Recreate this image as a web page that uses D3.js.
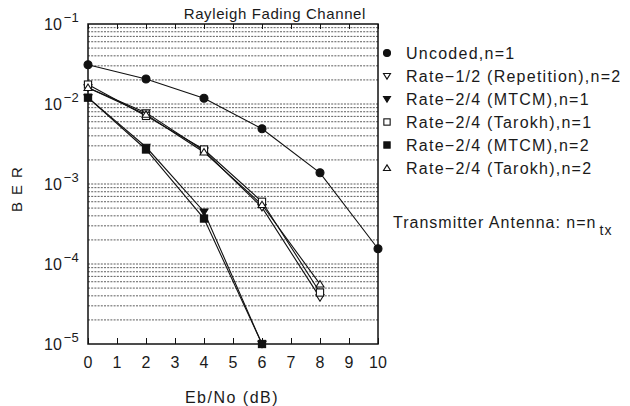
<!DOCTYPE html>
<html>
<head>
<meta charset="utf-8">
<script src="https://cdn.jsdelivr.net/npm/d3@7"></script>
<style>
  body { margin: 0; background: #fff; }
  svg { font-family: "Liberation Sans", Arial, sans-serif; }
  text { fill: #1a1a1a; }
</style>
</head>
<body>
<svg id="chart" width="630" height="406"></svg>
<script>
const ebno = [0, 2, 4, 6, 8, 10];
const uncoded = [0.031, 0.0205, 0.0118, 0.0049, 0.00138, 0.000155];
const rep2 = [0.016, 0.0078, 0.0026, 0.00051, 0.000038];
const mtcm1 = [0.012, 0.0029, 0.00045, 0.00001];
const tarokh1 = [0.0175, 0.0071, 0.0027, 0.0006, 0.000044];
const mtcm2 = [0.012, 0.0027, 0.00037, 0.00001];
const tarokh2 = [0.016, 0.0074, 0.0025, 0.00055, 0.000056];

const xTicks = d3.range(0, 11);
const yDecades = [-1, -2, -3, -4, -5];

const series = [
  { name: "Uncoded,n=1", values: uncoded, shape: "circle", fill: true },
  { name: "Rate\u22121/2 (Repetition),n=2", values: rep2, shape: "down", fill: false },
  { name: "Rate\u22122/4 (MTCM),n=1", values: mtcm1, shape: "down", fill: true },
  { name: "Rate\u22122/4 (Tarokh),n=1", values: tarokh1, shape: "square", fill: false },
  { name: "Rate\u22122/4 (MTCM),n=2", values: mtcm2, shape: "square", fill: true },
  { name: "Rate\u22122/4 (Tarokh),n=2", values: tarokh2, shape: "up", fill: false }
];

let svg = d3.select("#chart");
let padL = 88, padR = 378, padT = 24, padB = 344;

let x = d3.scaleLinear().domain([0, 10]).range([padL, padR]);
let y = d3.scaleLog().domain([1e-5, 1e-1]).range([padB, padT]);

// dotted grid at minor log positions
let gridVals = [];
for (let e = -5; e < -1; e++) {
  for (let m = 2; m <= 9; m++) gridVals.push(m * Math.pow(10, e));
}
gridVals.push(1e-4, 1e-3, 1e-2);
svg.append("g")
  .selectAll("line")
  .data(gridVals)
  .join("line")
  .attr("x1", padL)
  .attr("x2", padR)
  .attr("y1", (d) => y(d))
  .attr("y2", (d) => y(d))
  .attr("stroke", "#333")
  .attr("stroke-width", 0.8)
  .attr("stroke-dasharray", "2,1.2");

// frame
svg.append("rect")
  .attr("x", padL)
  .attr("y", padT)
  .attr("width", padR - padL)
  .attr("height", padB - padT)
  .attr("fill", "none")
  .attr("stroke", "#111")
  .attr("stroke-width", 1.5);

// x ticks on bottom and top, pointing inward
svg.append("g")
  .attr("transform", `translate(0,${padB})`)
  .call(d3.axisBottom(x).tickValues(xTicks).tickSize(-6).tickFormat(""))
  .call((g) => g.select(".domain").remove())
  .call((g) => g.selectAll("line").attr("stroke", "#111"));
svg.append("g")
  .attr("transform", `translate(0,${padT})`)
  .call(d3.axisTop(x).tickValues(xTicks).tickSize(-5).tickFormat(""))
  .call((g) => g.select(".domain").remove())
  .call((g) => g.selectAll("line").attr("stroke", "#111"));

// x tick labels
svg.append("g")
  .selectAll("text")
  .data(xTicks)
  .join("text")
  .attr("x", (d) => x(d))
  .attr("y", 368)
  .attr("text-anchor", "middle")
  .attr("font-size", 16)
  .text((d) => d);

// y tick labels 10^k
let yl = svg.append("g")
  .selectAll("text")
  .data(yDecades)
  .join("text")
  .attr("x", 44)
  .attr("y", (d) => y(Math.pow(10, d)) + 6)
  .attr("font-size", 16);
yl.append("tspan").text("10");
yl.append("tspan")
  .attr("dy", -8)
  .attr("dx", 2)
  .attr("font-size", 13)
  .text((d) => "\u2212" + -d);

// axis titles
svg.append("text")
  .attr("x", 232)
  .attr("y", 403)
  .attr("text-anchor", "middle")
  .attr("font-size", 16)
  .attr("letter-spacing", 1.5)
  .text("Eb/No (dB)");
svg.append("text")
  .attr("transform", "translate(22,186) rotate(-90)")
  .attr("text-anchor", "middle")
  .attr("font-size", 15)
  .attr("letter-spacing", 7)
  .text("BER");
svg.append("text")
  .attr("x", 366)
  .attr("y", 19)
  .attr("text-anchor", "end")
  .attr("font-size", 15)
  .attr("letter-spacing", 0.6)
  .text("Rayleigh Fading Channel");

// markers
function marker(sel, shape, fill, s) {
  let p;
  if (shape === "circle") {
    p = sel.append("circle").attr("r", s * 0.5);
  } else if (shape === "square") {
    let h = s * 0.45;
    p = sel.append("rect").attr("x", -h).attr("y", -h).attr("width", 2 * h).attr("height", 2 * h);
  } else {
    let h = s * 0.5;
    let pts = shape === "down"
      ? [[-h, -h * 0.7], [h, -h * 0.7], [0, h * 0.9]]
      : [[-h, h * 0.7], [h, h * 0.7], [0, -h * 0.9]];
    p = sel.append("path").attr("d", "M" + pts.join("L") + "Z");
  }
  p.attr("fill", fill ? "#111" : "#fff").attr("stroke", "#111").attr("stroke-width", 1.1);
}

let line = d3.line()
  .x((d, i) => x(ebno[i]))
  .y((d) => y(d));

series.forEach((s) => {
  svg.append("path")
    .datum(s.values)
    .attr("d", line)
    .attr("fill", "none")
    .attr("stroke", "#111")
    .attr("stroke-width", 1.1);
});
series.forEach((s) => {
  svg.append("g")
    .selectAll("g")
    .data(s.values)
    .join("g")
    .attr("transform", (d, i) => `translate(${x(ebno[i])},${y(d)})`)
    .each(function () { marker(d3.select(this), s.shape, s.fill, s.shape === "circle" ? 8 : 8); });
});

// legend
let lg = svg.append("g")
  .selectAll("g")
  .data(series)
  .join("g")
  .attr("transform", (d, i) => `translate(387,${53 + i * 23})`);
lg.each(function (d) { marker(d3.select(this), d.shape, d.fill, 7); });
lg.append("text")
  .attr("x", 19)
  .attr("y", 6)
  .attr("font-size", 16)
  .attr("letter-spacing", 1.25)
  .text((d) => d.name);

let note = svg.append("text")
  .attr("x", 393)
  .attr("y", 228)
  .attr("font-size", 16)
  .attr("letter-spacing", 1.0);
note.append("tspan").text("Transmitter Antenna: n=n");
note.append("tspan").attr("dy", 7).attr("dx", 3).attr("font-size", 14).text("tx");
</script>
</body>
</html>
